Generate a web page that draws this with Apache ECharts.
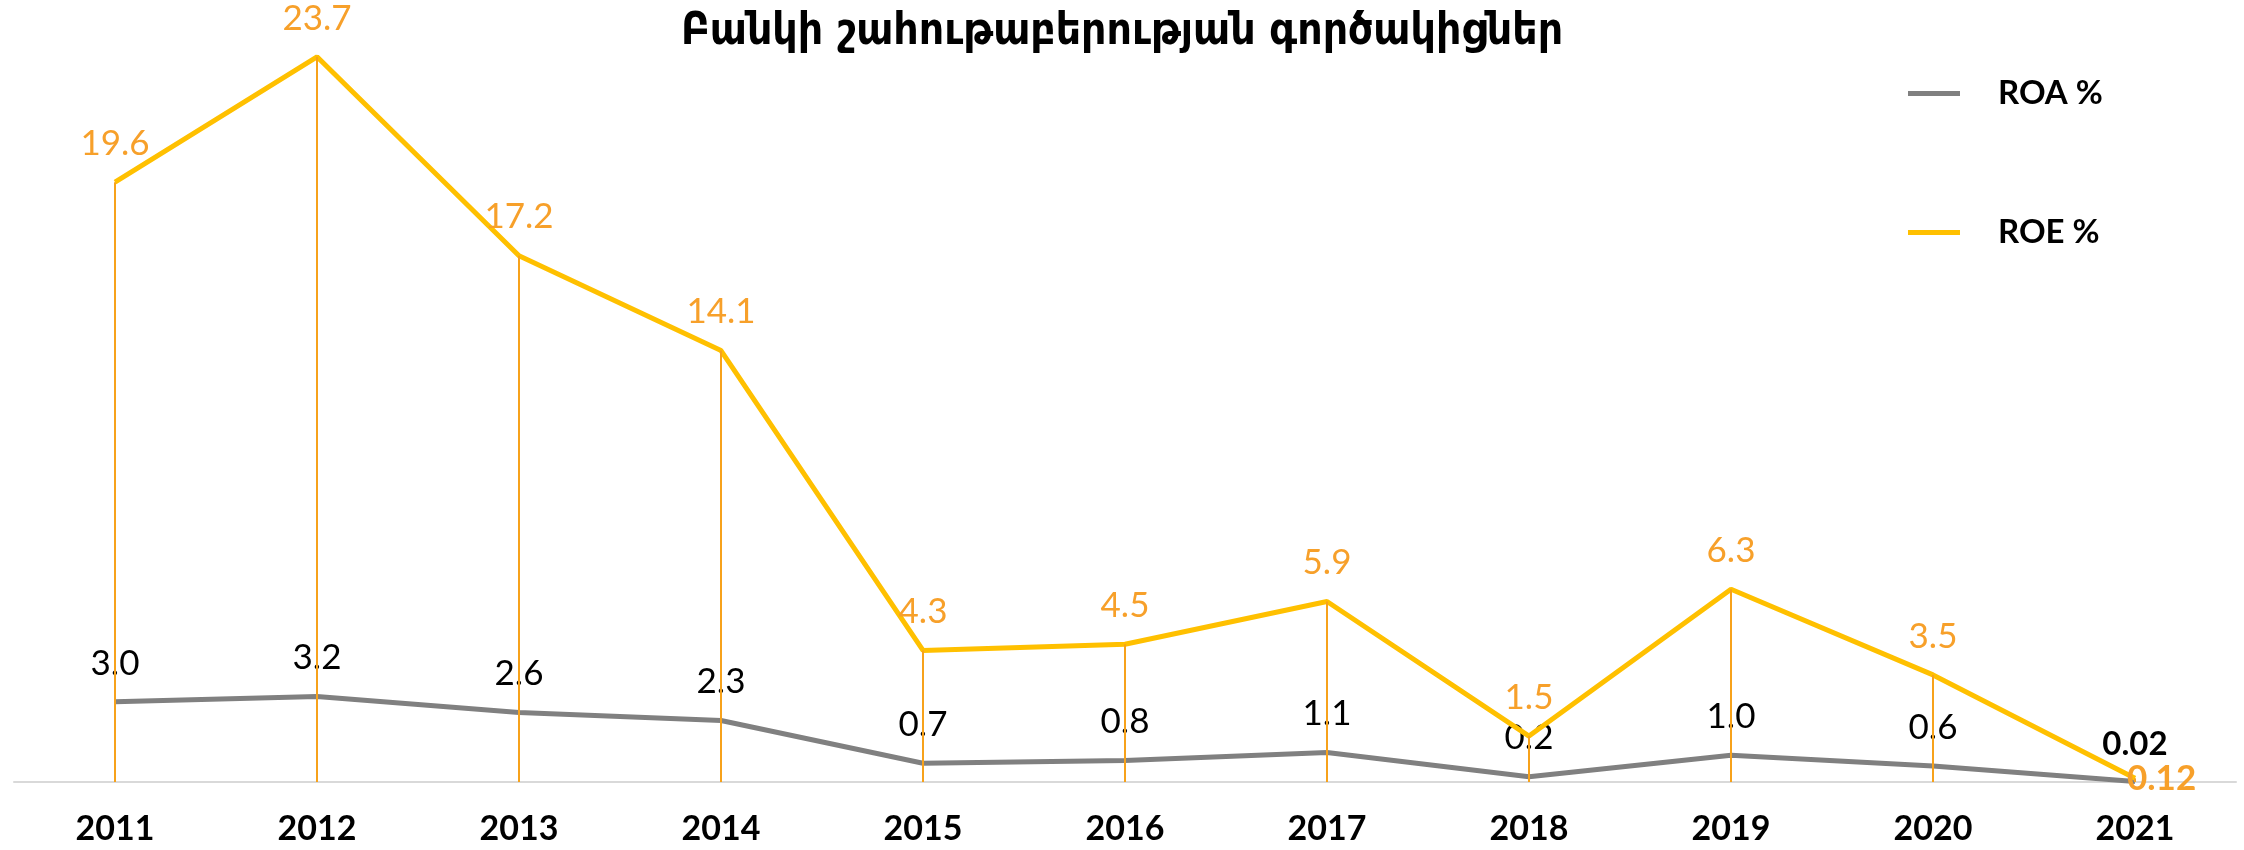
<!DOCTYPE html>
<html>
<head>
<meta charset="utf-8">
<script src="https://cdn.jsdelivr.net/npm/echarts@6/dist/echarts.min.js"></script>
<style>
  html, body { margin: 0; padding: 0; background: #fff; }
  #chart { width: 2244px; height: 850px; }
</style>
</head>
<body>
<div id="chart"></div>
<script>
const years = ["2011", "2012", "2013", "2014", "2015", "2016", "2017", "2018", "2019", "2020", "2021"];
const roa = [3.0, 3.2, 2.6, 2.3, 0.7, 0.8, 1.1, 0.2, 1.0, 0.6, 0.02];
const roe = [19.6, 23.7, 17.2, 14.1, 4.3, 4.5, 5.9, 1.5, 6.3, 3.5, 0.12];
const roaLabels = ["3.0", "3.2", "2.6", "2.3", "0.7", "0.8", "1.1", "0.2", "1.0", "0.6", "0.02"];
const roeLabels = ["19.6", "23.7", "17.2", "14.1", "4.3", "4.5", "5.9", "1.5", "6.3", "3.5", "0.12"];

const labelFont = "Lato";
const last = years.length - 1;

var chart = echarts.init(document.getElementById("chart"), null, { renderer: "canvas" });

// drop lines from each ROE point down to the axis
const dropLines = roe.map((v, i) => [
	{ coord: [i, v] },
	{ coord: [i, 0] }
]);

const roaData = roa.map((v, i) => {
	if (i === last) {
		return {
			value: v,
			label: { fontWeight: "bold", color: "#000", fontSize: 33 }
		};
	}
	return v;
});

const roeData = roe.map((v, i) => {
	if (i === last) {
		return {
			value: v,
			label: { position: "right", distance: 0, offset: [-8, 0], fontWeight: "bold", fontSize: 35 }
		};
	}
	return v;
});

var option = {
	animation: false,
	title: {
		text: "Բանկի շահութաբերության գործակիցներ",
		left: "center",
		top: 6,
		textStyle: {
			fontFamily: "DejaVu Sans Condensed",
			fontWeight: "bold",
			fontSize: 44,
			color: "#000"
		}
	},
	legend: {
		orient: "vertical",
		left: 1903,
		top: 72,
		itemGap: 106,
		itemWidth: 52,
		itemHeight: 5,
		icon: "rect",
		data: ["ROA %", "ROE %"],
		textStyle: {
			fontFamily: labelFont,
			fontWeight: "bold",
			fontSize: 33,
			lineHeight: 33,
			color: "#000",
			padding: [0, 0, 0, 33]
		}
	},
	grid: {
		left: 14,
		right: 8,
		top: 17,
		bottom: 68
	},
	xAxis: {
		type: "category",
		data: years,
		boundaryGap: true,
		axisLine: { lineStyle: { color: "#d9d9d9", width: 2 } },
		axisTick: { show: false },
		axisLabel: {
			fontFamily: labelFont,
			fontWeight: "bold",
			fontSize: 34,
			color: "#000",
			margin: 30
		}
	},
	yAxis: [
		{ type: "value", min: 0, max: 25, show: false },
		{ type: "value", min: 0, max: 28.6, show: false }
	],
	series: [
		{
			name: "ROA %",
			type: "line",
			yAxisIndex: 1,
			data: roaData,
			symbol: "circle",
			symbolSize: 0,
			showSymbol: true,
			color: "#808080",
			lineStyle: { color: "#808080", width: 5 },
			label: {
				show: true,
				position: "top",
				distance: 21,
				fontFamily: labelFont,
				fontWeight: "normal",
				fontSize: 35,
				color: "#000",
				formatter: (p) => roaLabels[p.dataIndex]
			},
			z: 3
		},
		{
			name: "ROE %",
			type: "line",
			yAxisIndex: 0,
			data: roeData,
			symbol: "circle",
			symbolSize: 0,
			showSymbol: true,
			color: "#ffc000",
			lineStyle: { color: "#ffc000", width: 5 },
			label: {
				show: true,
				position: "top",
				distance: 21,
				fontFamily: labelFont,
				fontWeight: "normal",
				fontSize: 35,
				color: "#f7a02a",
				formatter: (p) => roeLabels[p.dataIndex]
			},
			markLine: {
				silent: true,
				symbol: "none",
				label: { show: false },
				lineStyle: { color: "#f7a21b", width: 2, type: "solid" },
				data: dropLines
			},
			z: 4
		}
	]
};

chart.setOption(option);
window.addEventListener("resize", chart.resize);
</script>
</body>
</html>
